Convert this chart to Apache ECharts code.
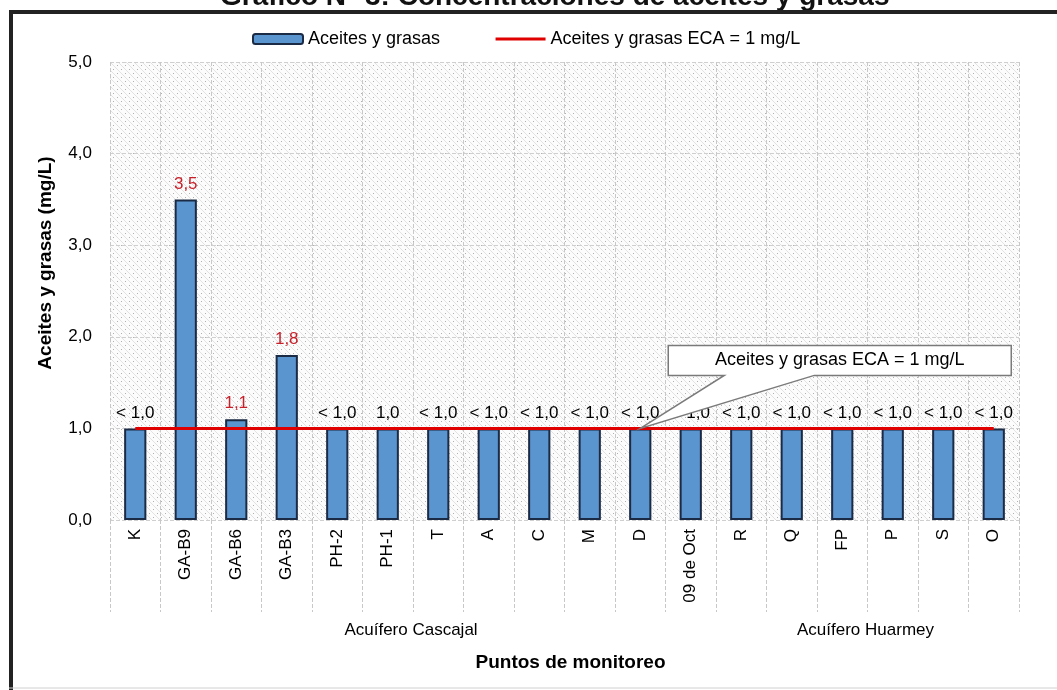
<!DOCTYPE html>
<html><head><meta charset="utf-8">
<script src="https://cdn.jsdelivr.net/npm/echarts@6/dist/echarts.min.js"></script>
<style>html,body{margin:0;padding:0;background:#fff}#c{width:1057px;height:690px}</style>
</head><body><div id="c"></div>
<script>
var categories = ['K','GA-B9','GA-B6','GA-B3','PH-2','PH-1','T','A','C','M','D','09 de Oct','R','Q','FP','P','S','O'];
var values = [1.0,3.5,1.1,1.8,1.0,1.0,1.0,1.0,1.0,1.0,1.0,1.0,1.0,1.0,1.0,1.0,1.0,1.0];
var valueLabels = ['< 1,0','3,5','1,1','1,8','< 1,0','1,0','< 1,0','< 1,0','< 1,0','< 1,0','< 1,0','< 1,0','< 1,0','< 1,0','< 1,0','< 1,0','< 1,0','< 1,0'];
var exceeds = [false,true,true,true,false,false,false,false,false,false,false,false,false,false,false,false,false,false];
var ecaLimit = [1,1,1,1,1,1,1,1,1,1,1,1,1,1,1,1,1,1];
var groups = [{name:'Acuífero Cascajal', from:0, to:11},{name:'Acuífero Huarmey', from:12, to:17}];
var yTicks = [0,1,2,3,4,5];
var calloutText = 'Aceites y grasas ECA = 1 mg/L';
var calloutIndex = 10;

var pc = document.createElement('canvas'); pc.width = 8; pc.height = 8;
var g = pc.getContext('2d');
g.fillStyle = '#fcfcfc'; g.fillRect(0,0,8,8);
g.strokeStyle = '#e2e2e2'; g.lineWidth = 1;
g.beginPath(); g.moveTo(0,0); g.lineTo(8,8); g.stroke();
g.fillStyle = '#b0b0b0'; g.fillRect(5,1,1,1); g.fillRect(1,5,1,1);

var chart = echarts.init(document.getElementById('c'));
var F = 'Arial, "Liberation Sans", sans-serif';
chart.setOption({
  animation:false,
  title:{text:'Gráfico N° 3: Concentraciones de aceites y grasas', left:215, top:-22,
    textStyle:{fontFamily:F, fontSize:28, fontWeight:'bold', color:'#111'}},
  legend:{top:25, left:247, itemWidth:50, itemHeight:10, itemGap:54,
    textStyle:{fontFamily:F, fontSize:18, color:'#000'},
    data:[{name:'Aceites y grasas'},
          {name:'Aceites y grasas ECA = 1 mg/L', itemStyle:{opacity:0}, lineStyle:{width:3, color:'#e00000'}}]},
  grid:{left:110, right:38, top:62, bottom:170, show:true, borderWidth:0,
    backgroundColor:{image:pc, repeat:'repeat'}},
  xAxis:{type:'category', data:categories,
    name:'Puntos de monitoreo', nameLocation:'middle', nameGap:133,
    nameTextStyle:{fontFamily:F, fontSize:19, fontWeight:'bold', color:'#000', padding:[0,0,0,12]},
    axisLine:{show:false},
    axisTick:{show:true, length:92, lineStyle:{color:'#c8c8c8', type:'dashed', width:1}},
    splitLine:{show:true, lineStyle:{color:'#c8c8c8', type:'dashed', width:1}},
    axisLabel:{rotate:90, margin:9, fontFamily:F, fontSize:17, color:'#000', interval:0}},
  yAxis:{type:'value', min:yTicks[0], max:yTicks[yTicks.length-1], interval:1,
    name:'Aceites y grasas (mg/L)', nameLocation:'middle', nameGap:55,
    nameTextStyle:{fontFamily:F, fontSize:19, fontWeight:'bold', color:'#000', padding:[0,0,0,56]},
    axisLine:{show:false}, axisTick:{show:false},
    splitLine:{show:true, lineStyle:{color:'#cfcfcf', type:'dashed', width:1}},
    axisLabel:{margin:18, fontFamily:F, fontSize:17, color:'#000',
      formatter:function(v){return v.toFixed(1).replace('.',',');}}},
  series:[
    {name:'Aceites y grasas', type:'bar', barWidth:'44%',
      data:values.map(function(v,i){return {value:v, label:{color: exceeds[i] ? '#c8202a' : '#000'}};}),
      itemStyle:{color:'#5b95cf', borderColor:'#1b2a45', borderWidth:2},
      label:{show:true, position:'top', distance:7, fontFamily:F, fontSize:17,
        formatter:function(p){return valueLabels[p.dataIndex];}},
      z:2},
    {name:'Aceites y grasas ECA = 1 mg/L', type:'line', data:ecaLimit, symbol:'none', showSymbol:false,
      lineStyle:{color:'#e00000', width:3}, itemStyle:{color:'#e00000'}, z:3}
  ]
});

var gfx = [];
gfx.push({type:'line', shape:{x1:11,y1:11,x2:11,y2:690}, style:{stroke:'#222', lineWidth:4}, z:10});
gfx.push({type:'line', shape:{x1:9,y1:12,x2:1057,y2:12}, style:{stroke:'#222', lineWidth:4}, z:10});
gfx.push({type:'line', shape:{x1:9,y1:688,x2:1057,y2:688}, style:{stroke:'#d0d0d0', lineWidth:1}, z:10});
groups.forEach(function(gr){
  var a = chart.convertToPixel({xAxisIndex:0}, gr.from);
  var b = chart.convertToPixel({xAxisIndex:0}, gr.to);
  gfx.push({type:'text', x:(a+b)/2 - 2, y:630, style:{text:gr.name, fontFamily:F, fontSize:17, fill:'#000', align:'center', verticalAlign:'middle'}, z:10});
});
var p = chart.convertToPixel({xAxisIndex:0, yAxisIndex:0}, [calloutIndex, ecaLimit[calloutIndex]]);
var L = p[0]+28, R = p[0]+371, T = p[1]-83, B = p[1]-53;
gfx.push({type:'polygon', shape:{points:[[L,T],[R,T],[R,B],[p[0]+174,B],[p[0],p[1]],[p[0]+84,B],[L,B]]},
  style:{fill:'#fff', stroke:'#7a7a7a', lineWidth:1.5}, z:20});
gfx.push({type:'text', x:(L+R)/2, y:(T+B)/2, style:{text:calloutText, fontFamily:F, fontSize:18, fill:'#000', align:'center', verticalAlign:'middle'}, z:21});
chart.setOption({graphic:gfx});
</script></body></html>
